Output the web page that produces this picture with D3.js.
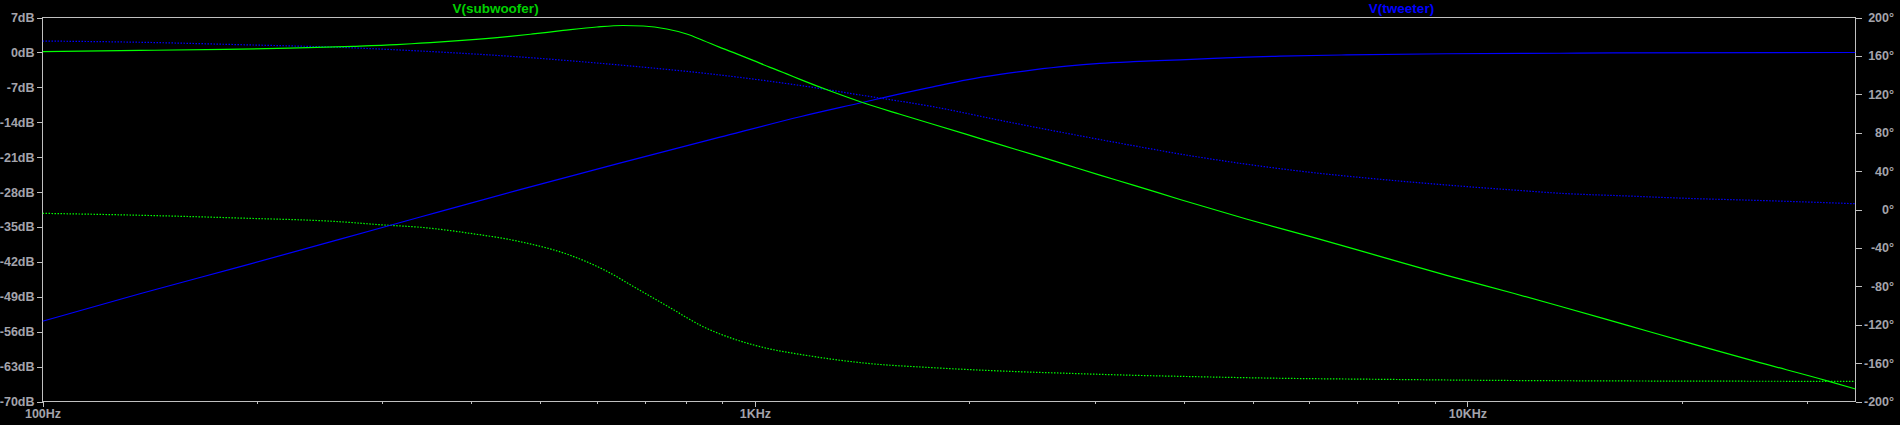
<!DOCTYPE html>
<html>
<head>
<meta charset="utf-8">
<script src="https://cdn.jsdelivr.net/npm/d3@7"></script>
<style>
  html, body { margin: 0; padding: 0; background: #000; }
  svg { display: block; }
  text { font-family: "Liberation Sans", Arial, sans-serif; font-weight: bold; }
</style>
</head>
<body>
<svg id="chart" width="1900" height="425"></svg>
<script>
// ---- Data ----
const subMagFreq = [100,137,180,222,273,314,339,367,406,453,488,538,600,653,697,752,802,846,893,943,994,1050,1108,1157,1290,1419,1598,1778,1982,2208,2459,2738,3049,3396,3950,4894,6075,7536,9350,11600,13490,16730,20750,25730,31900,35050];
const subMagDb   = [0.15,0.4,0.6,0.85,1.2,1.55,1.85,2.15,2.6,3.2,3.7,4.4,5.1,5.4,5.3,4.7,3.7,2.4,1.0,-0.3,-1.6,-3.0,-4.3,-5.4,-8.0,-10.1,-12.4,-14.4,-16.45,-18.5,-20.5,-22.55,-24.6,-26.6,-29.5,-33.4,-37.1,-40.9,-44.7,-48.3,-50.9,-54.7,-58.5,-62.2,-65.8,-67.5];

const subPhaseFreq = [100,137,189,261,301,339,398,468,549,612,682,760,846,943,1050,1157,1435,1778,2208,2738,3396,3950,5455,7536,10410,16730,35050];
const subPhaseDeg  = [-4.0,-6.0,-8.9,-12.7,-16.1,-18.5,-24.8,-33.5,-47.4,-62.3,-82.1,-102.3,-122.1,-135.9,-145.3,-150.9,-160.2,-164.8,-168.2,-170.6,-172.7,-173.8,-175.8,-176.9,-177.9,-178.6,-179.0];

const twMagFreq = [100,137,189,261,339,468,646,893,1157,1419,1598,1778,1982,2208,2459,2738,3049,3396,3950,4397,5455,6766,9350,13490,16000,35050];
const twMagDb   = [-53.9,-48.4,-43.0,-37.5,-33.0,-27.5,-22.2,-17.0,-12.9,-10.0,-8.3,-6.9,-5.5,-4.4,-3.5,-2.75,-2.2,-1.85,-1.5,-1.18,-0.75,-0.5,-0.27,-0.17,-0.08,-0.02];

const twPhaseFreq = [100,137,189,261,339,468,646,893,1157,1435,1778,2208,2738,3396,3950,4894,6075,7536,9350,11600,13490,16730,20750,25730,31900,35050];
const twPhaseDeg  = [175.5,174.2,171.7,168.9,165.1,158.9,150.5,140.1,129.2,118.2,107.1,92.9,79.4,66.5,57.8,47.2,38.4,31.5,25.5,20.3,16.9,14.1,11.4,9.4,7.1,6.0];

const dbTicks  = [7,0,-7,-14,-21,-28,-35,-42,-49,-56,-63,-70];
const degTicks = [200,160,120,80,40,0,-40,-80,-120,-160,-200];
const freqMajor = [100,1000,10000];
const freqMajorLabels = ["100Hz","1KHz","10KHz"];
const seriesNames = ["V(subwoofer)","V(tweeter)"];

// ---- Layout ----
const W = 1900, H = 425;
const m = {left: 42.5, right: 1855.5, top: 17.5, bottom: 401.5};
const svg = d3.select("#chart");
svg.append("rect").attr("width", W).attr("height", H).attr("fill", "#000");

const x = d3.scaleLog().domain([100, 35050]).range([m.left, m.right]);
const yDb = d3.scaleLinear().domain([-70, 7]).range([m.bottom, m.top]);
const yDeg = d3.scaleLinear().domain([-200, 200]).range([m.bottom, m.top]);

const axisColor = "#c0c0c0";
const labelColor = "#a4a4ac";

// frame
svg.append("rect")
  .attr("x", m.left).attr("y", m.top)
  .attr("width", m.right - m.left).attr("height", m.bottom - m.top)
  .attr("fill", "none").attr("stroke", axisColor).attr("stroke-width", 1)
  .attr("shape-rendering", "crispEdges");

// Left axis
const leftAxis = d3.axisLeft(yDb).tickValues(dbTicks).tickSize(6).tickPadding(2)
  .tickFormat(d => d + "dB");
const gl = svg.append("g").attr("transform", `translate(${m.left},0)`).call(leftAxis);

// Right axis
const rightAxis = d3.axisRight(yDeg).tickValues(degTicks).tickSize(6).tickPadding(2)
  .tickFormat(d => d + "°");
const gr = svg.append("g").attr("transform", `translate(${m.right},0)`).call(rightAxis);
gr.selectAll("text").attr("text-anchor", "end").attr("x", 1894 - m.right);

// Bottom axis: minor ticks
const minor = [];
[100,1000,10000].forEach(dec => { for (let k = 2; k <= 9; k++) { const v = dec * k; if (v <= 35050) minor.push(v); } });
const bottomMinor = d3.axisBottom(x).tickValues(minor).tickSize(2).tickFormat("");
const gbm = svg.append("g").attr("transform", `translate(0,${m.bottom})`).call(bottomMinor);
const bottomMajor = d3.axisBottom(x).tickValues(freqMajor).tickSize(5).tickPadding(3)
  .tickFormat((d, i) => freqMajorLabels[i]);
const gb = svg.append("g").attr("transform", `translate(0,${m.bottom})`).call(bottomMajor);

[gl, gr, gbm, gb].forEach(g => {
  g.select(".domain").remove();
  g.selectAll("line").attr("stroke", axisColor).attr("shape-rendering", "crispEdges");
  g.selectAll("text").attr("fill", labelColor).style("font-size", "12.5px")
    .style("font-family", '"Liberation Sans", Arial, sans-serif').style("font-weight", "bold");
});

// Curves
const clipId = "plotclip";
svg.append("clipPath").attr("id", clipId).append("rect")
  .attr("x", m.left).attr("y", m.top).attr("width", m.right - m.left).attr("height", m.bottom - m.top);

function drawCurve(freqs, vals, yScale, color, dotted) {
  const pts = freqs.map((f, i) => [f, vals[i]]);
  const line = d3.line().x(d => x(d[0])).y(d => yScale(d[1])).curve(d3.curveMonotoneX);
  svg.append("path")
    .datum(pts)
    .attr("d", line)
    .attr("fill", "none")
    .attr("stroke", color)
    .attr("stroke-width", 1.2)
    .attr("stroke-dasharray", dotted ? "1.5,1.5" : null)
    .attr("clip-path", `url(#${clipId})`);
}
drawCurve(twPhaseFreq, twPhaseDeg, yDeg, "#0000ff", true);
drawCurve(subPhaseFreq, subPhaseDeg, yDeg, "#00ff00", true);
drawCurve(twMagFreq, twMagDb, yDb, "#0000ff", false);
drawCurve(subMagFreq, subMagDb, yDb, "#00ff00", false);

// Series labels
svg.append("text").attr("x", 495.5).attr("y", 13).attr("text-anchor", "middle")
  .attr("fill", "#00d000").style("font-size", "13.5px").text(seriesNames[0]);
svg.append("text").attr("x", 1401.5).attr("y", 13).attr("text-anchor", "middle")
  .attr("fill", "#0000ff").style("font-size", "13.5px").text(seriesNames[1]);
</script>
</body>
</html>
